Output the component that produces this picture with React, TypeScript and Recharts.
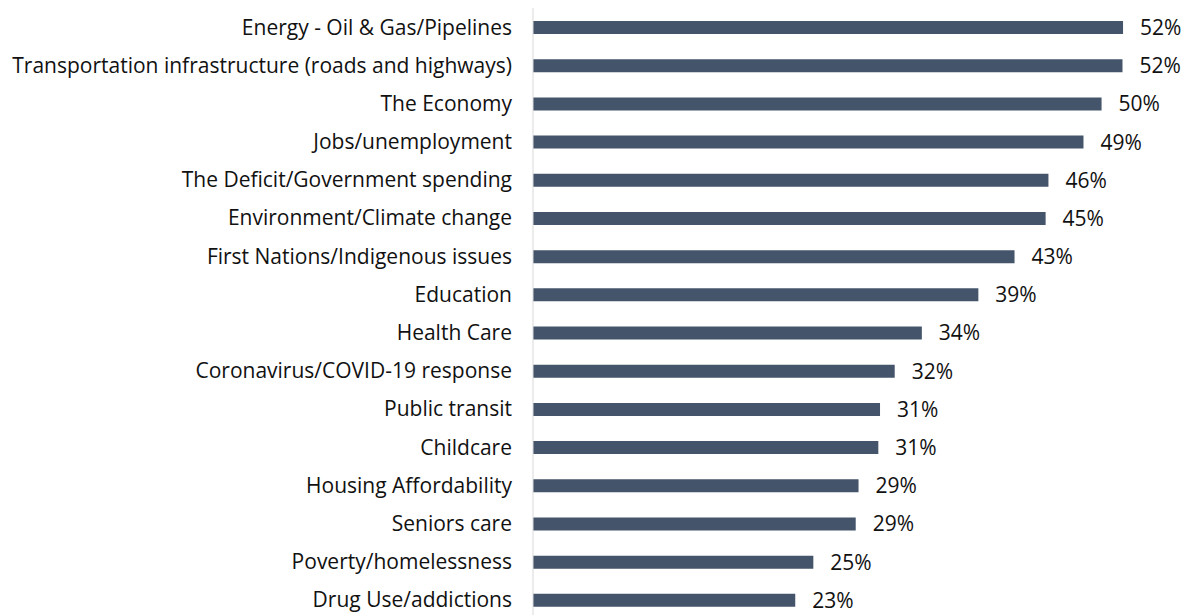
import { BarChart, Bar, XAxis, YAxis, LabelList } from 'recharts'

// issues, top to bottom
const issues = [
    'Energy - Oil & Gas/Pipelines',
    'Transportation infrastructure (roads and highways)',
    'The Economy',
    'Jobs/unemployment',
    'The Deficit/Government spending',
    'Environment/Climate change',
    'First Nations/Indigenous issues',
    'Education',
    'Health Care',
    'Coronavirus/COVID-19 response',
    'Public transit',
    'Childcare',
    'Housing Affordability',
    'Seniors care',
    'Poverty/homelessness',
    'Drug Use/addictions',
]

// share of respondents (%)
const shares = [52.2, 52.15, 50.3, 48.7, 45.6, 45.35, 42.6, 39.4, 34.4, 32.0, 30.7, 30.55, 28.8, 28.55, 24.8, 23.2]

const FONT = '"Open Sans", sans-serif'

export default function App() {
    const chartData = issues.map((issue, i) => ({ issue, share: shares[i] }))

    return (
        <div style={{ position: 'absolute', left: 0, top: 0, width: 1186, height: 615, overflow: 'hidden', background: '#fff' }}>
            <BarChart
                width={1186}
                height={619}
                data={chartData}
                layout="vertical"
                margin={{ top: 8, right: 20, bottom: 0, left: 0 }}
                barSize={13}
            >
                <XAxis type="number" domain={[0, 56]} hide />
                <YAxis
                    type="category"
                    dataKey="issue"
                    width={533}
                    interval={0}
                    tickLine={false}
                    tickSize={0}
                    tickMargin={21}
                    axisLine={{ stroke: '#d9d9d9', strokeWidth: 1 }}
                    tick={{ fontSize: 21, fill: '#111', fontFamily: FONT }}
                />
                <Bar dataKey="share" fill="#44546A" isAnimationActive={false}>
                    <LabelList
                        dataKey="share"
                        position="right"
                        offset={17}
                        formatter={(v: any) => `${Math.round(Number(v))}%`}
                        style={{ fontSize: 21, fill: '#111', fontFamily: FONT }}
                    />
                </Bar>
            </BarChart>
        </div>
    )
}
